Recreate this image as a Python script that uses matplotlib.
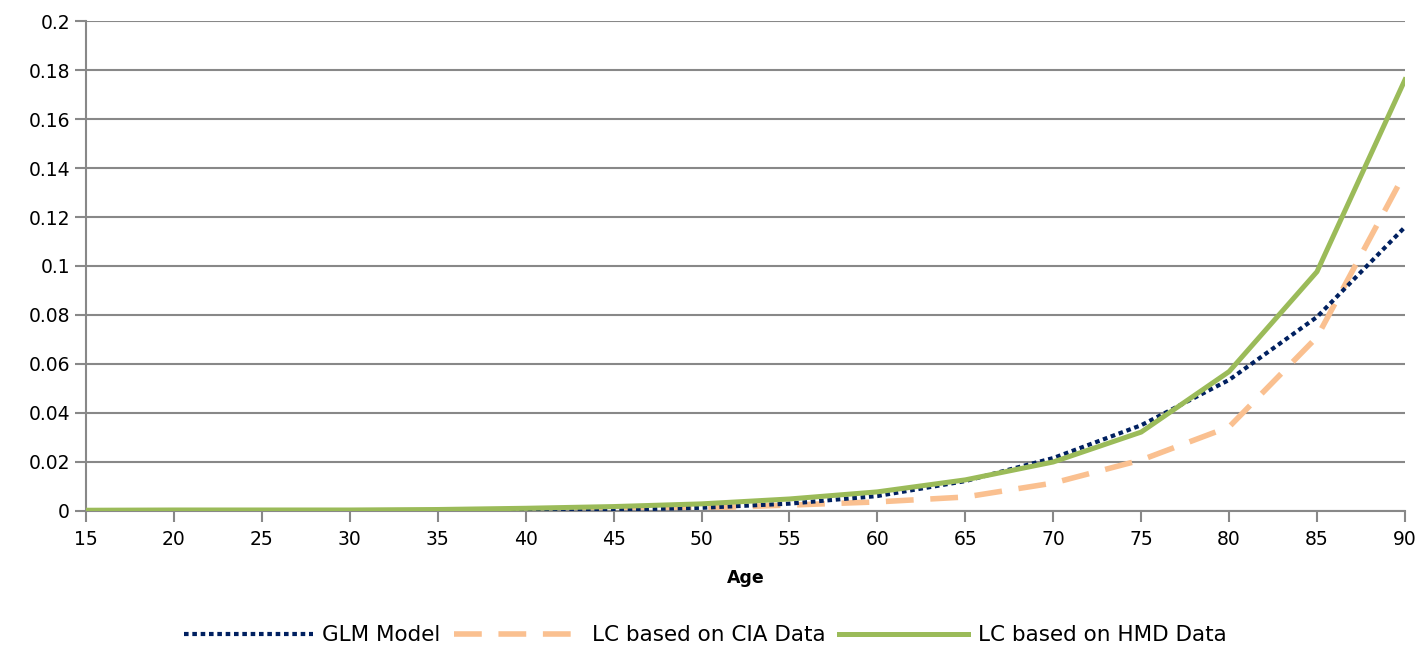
import matplotlib.pyplot as plt
import numpy as np

# Mortality rates by age for three models
ages = [15, 20, 25, 30, 35, 40, 45, 50, 55, 60, 65, 70, 75, 80, 85, 90]
glm = [-0.001, -0.001, -0.001, -0.0008, -0.0005, 0.0, 0.0005, 0.0013,
       0.003, 0.0061, 0.0122, 0.0216, 0.035, 0.0535, 0.0792, 0.1159]
lc_cia = [-0.0004, -0.0004, -0.0004, -0.0003, -0.0002, 0.0002, 0.0004, 0.0012,
          0.0024, 0.0037, 0.0057, 0.0114, 0.0208, 0.0343, 0.071, 0.138]
lc_hmd = [0.0003, 0.0004, 0.0004, 0.0004, 0.0006, 0.0011, 0.0018, 0.0029,
          0.0049, 0.0078, 0.0127, 0.020, 0.0322, 0.0569, 0.0977, 0.176]

yticks = [0, 0.02, 0.04, 0.06, 0.08, 0.1, 0.12, 0.14, 0.16, 0.18, 0.2]
ytick_labels = ['0', '0.02', '0.04', '0.06', '0.08', '0.1', '0.12', '0.14', '0.16', '0.18', '0.2']

plt.rcParams['font.family'] = 'DejaVu Sans'
fig = plt.figure(figsize=(14.2, 6.45), dpi=100)
ax = fig.add_axes([0.0606, 0.2078, 0.9288, 0.7596])

ax.plot(ages, glm, color='#002060', lw=3, linestyle=(0, (1.1, 0.9)), label='GLM Model', zorder=3)
ax.plot(ages, lc_cia, color='#FAC090', lw=4, linestyle=(0, (5, 3)), label='LC based on CIA Data', zorder=2)
ax.plot(ages, lc_hmd, color='#9BBB59', lw=3.6, label='LC based on HMD Data', zorder=4)

ax.set_xlim(15, 90)
ax.set_ylim(0, 0.2)
ax.set_xticks(ages)
ax.set_yticks(yticks)
ax.set_yticklabels(ytick_labels)
ax.yaxis.grid(True, color='#888888', lw=1.5)
ax.set_axisbelow(True)
for s in ['top', 'right']:
    ax.spines[s].set_visible(False)
for s in ['left', 'bottom']:
    ax.spines[s].set_color('#888888')
    ax.spines[s].set_linewidth(1.5)
ax.tick_params(axis='both', colors='#888888', width=1.5, length=8, labelsize=13.5, labelcolor='black')
ax.tick_params(axis='x', pad=6)
ax.set_xlabel('Age', fontsize=12.5, fontweight='bold', labelpad=14)

fig.legend(loc='center', bbox_to_anchor=(0.4965, 0.015), bbox_transform=fig.transFigure,
           ncol=3, frameon=False, fontsize=15.5, handlelength=6.0, handletextpad=0.45,
           columnspacing=0.6)

fig.savefig('out.png', dpi=100)
